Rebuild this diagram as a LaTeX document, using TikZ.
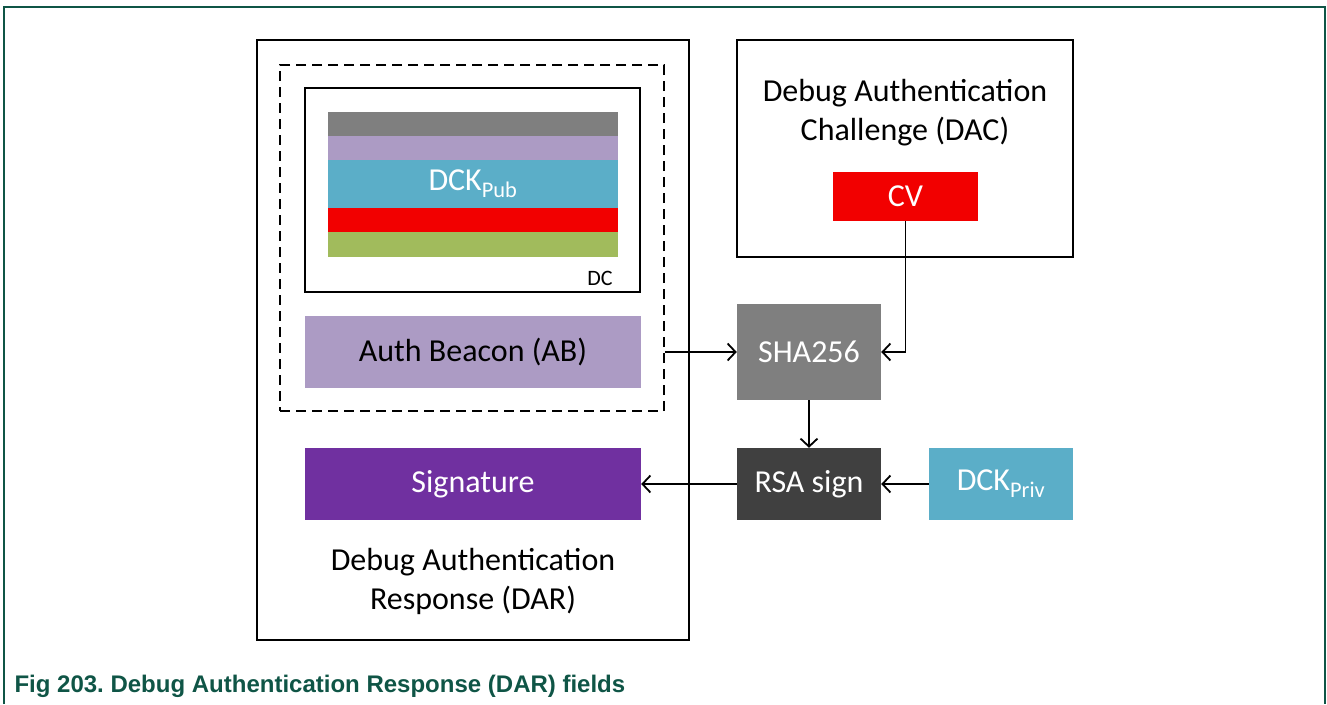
\documentclass[tikz,border=0pt]{standalone}
\usepackage{fontspec}
\setmainfont{Carlito}
\newfontfamily\capfont{Liberation Sans}
\usetikzlibrary{arrows.meta,positioning}
\definecolor{nxpgreen}{RGB}{15,85,70}
\definecolor{fgray}{RGB}{127,127,127}
\definecolor{flilac}{RGB}{172,155,196}
\definecolor{fcyan}{RGB}{91,174,200}
\definecolor{fred}{RGB}{242,0,0}
\definecolor{fgreen}{RGB}{161,187,92}
\definecolor{fpurple}{RGB}{112,48,160}
\definecolor{fdark}{RGB}{64,64,64}

\begin{document}
\begin{tikzpicture}[x=1pt,y=-1pt,
  frame/.style={draw,line width=1.8pt,inner sep=0pt},
  field/.style={inner sep=0pt,text=white,font=\fontsize{32}{39}\selectfont},
  link/.style={line width=1.8pt,-{Straight Barb[length=8pt,width=17pt]}}]
\useasboundingbox (0,0) rectangle (1327,704);
\draw[nxpgreen,line width=1.4pt] (4,704)--(4,7)--(1325,7)--(1325,704);
% response side
\node[frame,minimum width=432,minimum height=600] (dar) at (473,340) {};
\node[frame,dashed,dash pattern=on 10pt off 6pt,minimum width=384,minimum height=346] (grp) at (472,238) {};
\node[frame,minimum width=335,minimum height=204] (dc) at (472.5,190) {};
\fill[fgray] (328,112) rectangle (618,136);
\fill[flilac] (328,136) rectangle (618,160);
\node[field,fill=fcyan,minimum width=290,minimum height=48] (pub) at (473,184) {DCK\textsubscript{Pub}};
\fill[fred] (328,208) rectangle (618,232);
\fill[fgreen] (328,232) rectangle (618,257);
\node[font=\fontsize{22}{26}\selectfont] (dclbl) at (600,278) {DC};
\node[field,fill=flilac,text=black,minimum width=336,minimum height=72] (ab) at (473,352) {Auth Beacon (AB)};
\node[field,fill=fpurple,minimum width=336,minimum height=72] (sig) at (473,484) {Signature};
\node[align=center,font=\fontsize{32}{39}\selectfont] (darlbl) at (473,581) {Debug Authentication\\Response (DAR)};
% challenge side
\node[frame,minimum width=336,minimum height=217] (dac) at (905,148.5) {};
\node[align=center,font=\fontsize{32}{39}\selectfont] (daclbl) at (905,113) {Debug Authentication\\Challenge (DAC)};
\node[field,fill=fred,minimum width=145,minimum height=49] (cv) at (905.5,196.5) {CV};
% processing
\node[field,fill=fgray,minimum width=144,minimum height=96] (sha) at (809,352) {SHA256};
\node[field,fill=fdark,minimum width=144,minimum height=72] (rsa) at (809,484) {RSA sign};
\node[field,fill=fcyan,minimum width=144,minimum height=72] (priv) at (1001,484) {DCK\textsubscript{Priv}};
\draw[link] (grp.east |- ab.east) -- (sha.west);
\draw[link] (cv.south) |- (sha.east);
\draw[link] (sha.south) -- (rsa.north);
\draw[link] (priv.west) -- (rsa.east);
\draw[link] (rsa.west) -- (sig.east);
\node[anchor=base west,text=nxpgreen,font=\capfont\bfseries\fontsize{24}{28}\selectfont] (cap) at (11,692) {Fig 203.\ Debug Authentication Response (DAR) fields};
\end{tikzpicture}
\end{document}
